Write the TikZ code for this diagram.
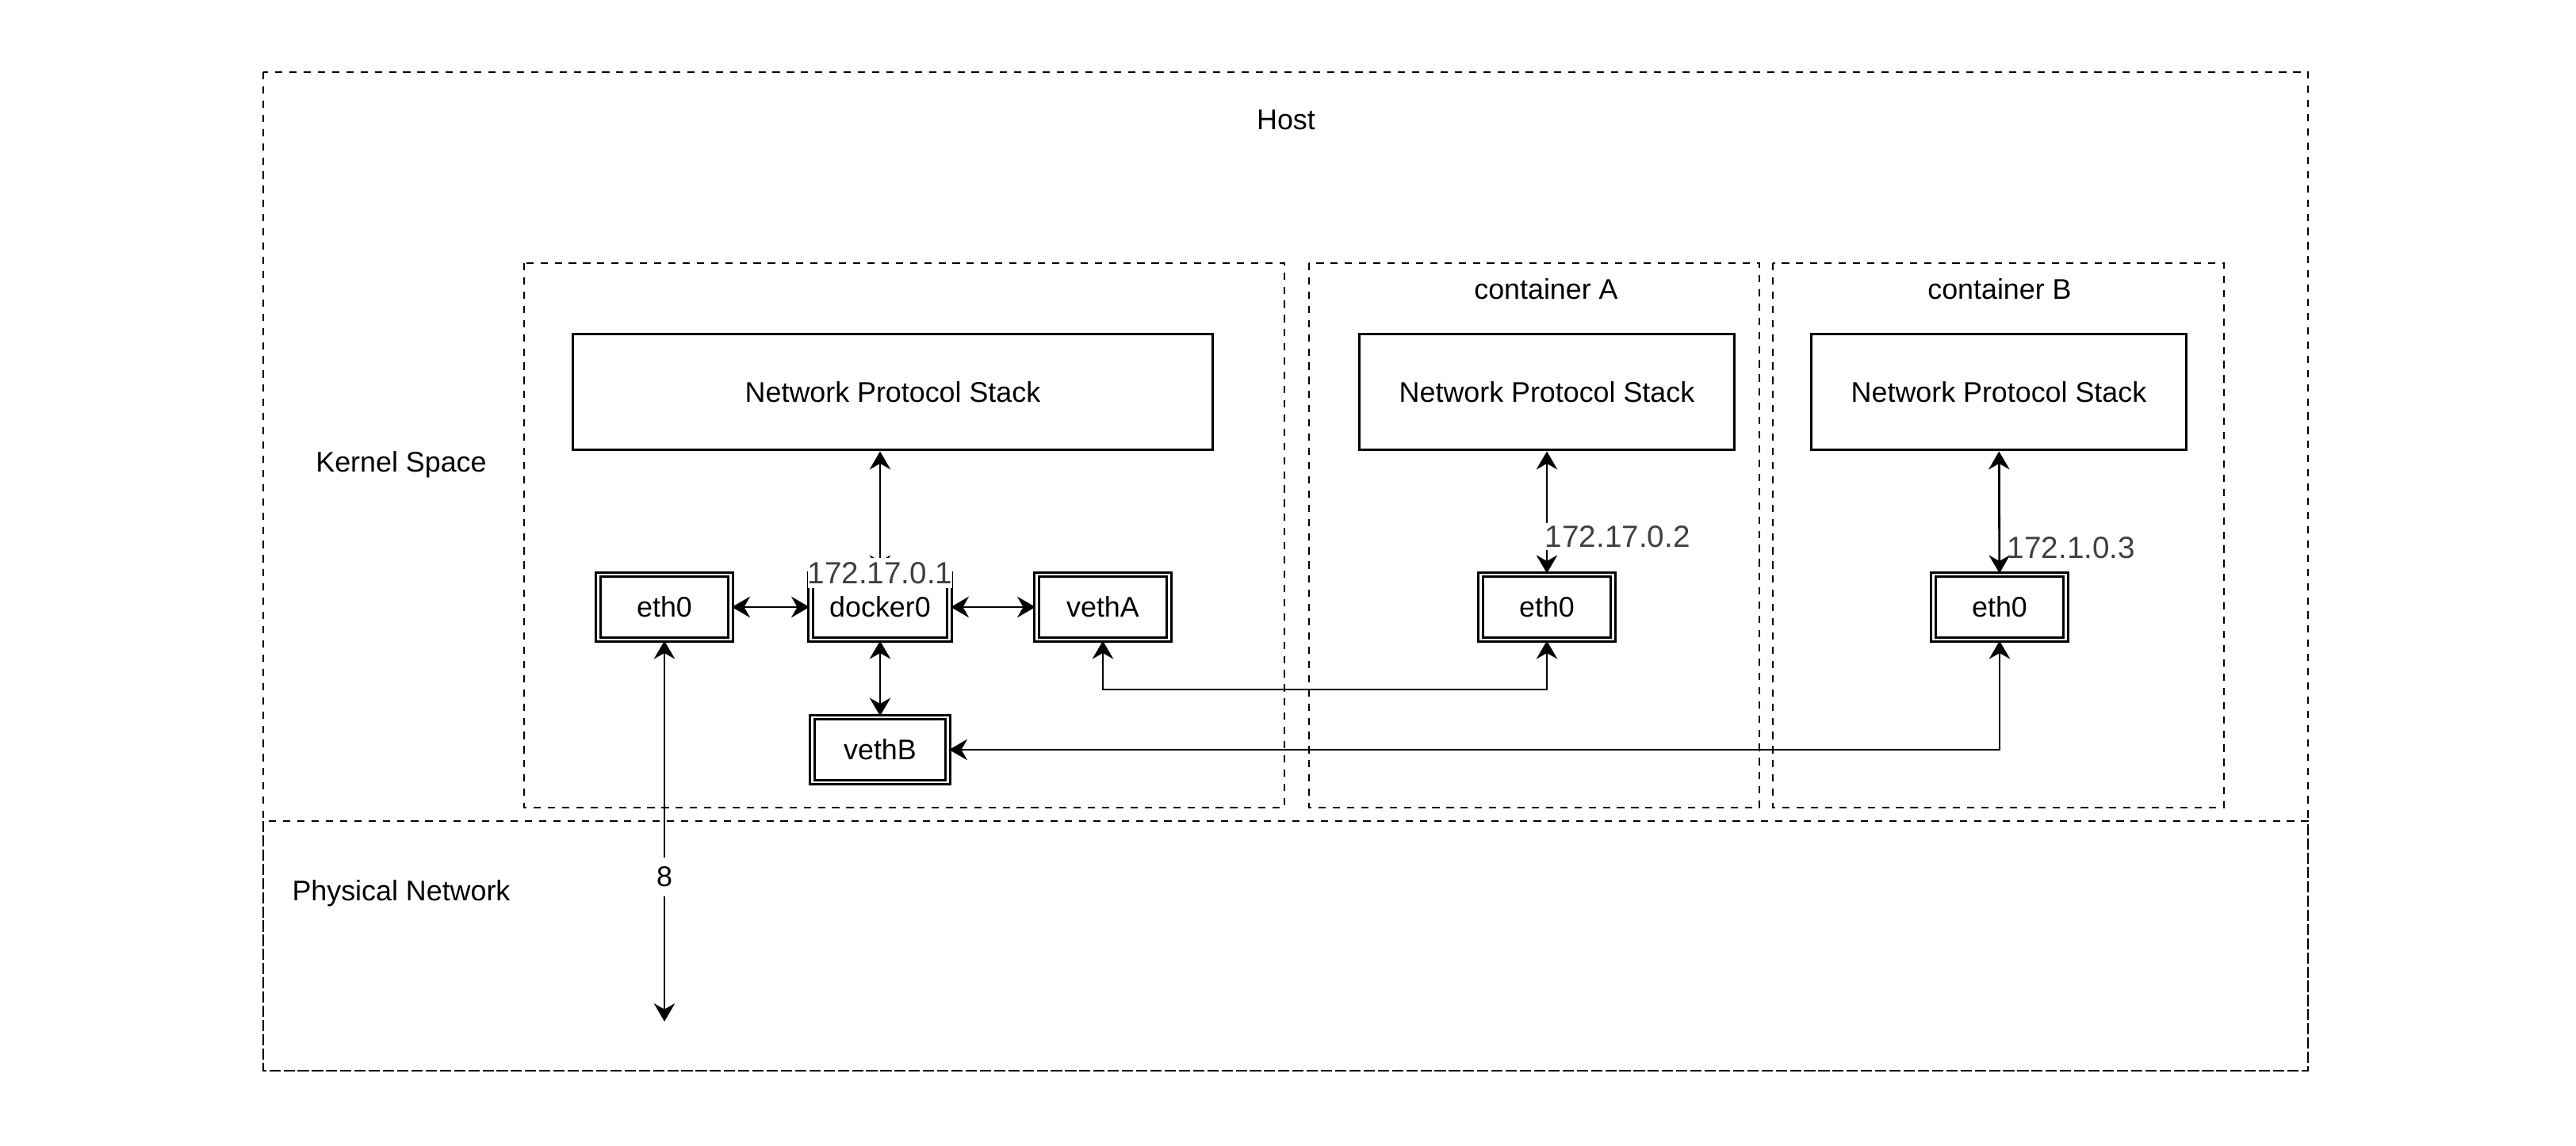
\documentclass[tikz,border=0pt]{standalone}
\usepackage{fontspec}
\setmainfont{Liberation Sans}
\usetikzlibrary{arrows.meta,positioning,calc}

\begin{document}
\begin{tikzpicture}[x=1cm,y=1cm]

\tikzset{
  region/.style={draw=black, line width=0.8pt, dash pattern=on 2.6pt off 2.5pt},
  stack/.style={draw=black, line width=0.85pt, fill=white,
                font=\fontsize{10.2}{12}\selectfont,
                minimum width=4.73cm, minimum height=1.46cm, inner sep=1pt},
  iface/.style={draw=black, double=white, double distance=0.7pt, line width=0.9pt,
                font=\fontsize{10.2}{12}\selectfont,
                minimum width=1.67cm, minimum height=0.82cm, inner sep=1pt},
  textlabel/.style={font=\fontsize{10.2}{12}\selectfont},
  iplabel/.style={font=\fontsize{11}{13}\selectfont, text=black!75, inner sep=1pt},
  link/.style={black, line width=0.8pt,
               {Stealth[length=6.5pt,width=7.5pt]}-{Stealth[length=6.5pt,width=7.5pt]}}
}

\useasboundingbox (0,0) rectangle (32.49,14.46);

% Host and physical network
\draw[region] (3.32,13.55) rectangle (29.11,0.95);
\draw[region] (3.32,4.10) rectangle (29.11,0.95);
\node[textlabel] (host) at (16.22,12.95) {Host};
\node[textlabel] (kspace) at (5.06,8.60) {Kernel Space};
\node[textlabel] (pnet) at (5.06,3.19) {Physical Network};

% Kernel and containers
\draw[region] (6.61,11.14) rectangle (16.20,4.27);
\draw[region] (16.51,11.14) rectangle (22.19,4.27);
\draw[region] (22.36,11.14) rectangle (28.05,4.27);
\node[textlabel] (ctra) at (19.50,10.81) {container A};
\node[textlabel] (ctrb) at (25.22,10.81) {container B};

% Protocol stacks
\node[stack, minimum width=8.07cm] (stk0) at (11.26,9.51) {Network Protocol Stack};
\node[stack] (stkA) at (19.51,9.51) {Network Protocol Stack};
\node[stack] (stkB) at (25.21,9.51) {Network Protocol Stack};

% Interfaces
\node[iface] (heth) at (8.38,6.80) {eth0};
\node[iface, minimum width=1.75cm] (dock) at (11.10,6.80) {docker0};
\node[iface] (vetha) at (13.91,6.80) {vethA};
\node[iface, minimum width=1.71cm] (vethb) at (11.10,5.00) {vethB};
\node[iface] (etha) at (19.51,6.80) {eth0};
\node[iface] (ethb) at (25.22,6.80) {eth0};

\coordinate (jA) at (0,5.76);
\coordinate (wire) at (8.38,1.57);

% Links
\draw[link] (stk0.south -| dock.north) -- (dock.north);
\draw[link] (heth) -- (dock);
\draw[link] (dock) -- (vetha);
\draw[link] (dock) -- (vethb);
\draw[link] (vetha.south) -- (vetha.south |- jA) -- (etha.south |- jA) -- (etha.south);
\draw[link] (vethb.east) -| (ethb.south);
\draw[link] (stkA) -- node[iplabel, pos=0.70, anchor=west, fill=white, xshift=-2pt] (ipa) {172.17.0.2} (etha);
\draw[link] (stkB) -- node[iplabel, pos=0.79, anchor=west, xshift=1.5pt] (ipb) {172.1.0.3} (ethb);
\draw[link] (heth) -- node[textlabel, pos=0.62, fill=white] (hops) {8} (wire);
\node[iplabel, fill=white, inner xsep=0pt, inner ysep=1.5pt] (ipdock) at (dock.north) {172.17.0.1};

\end{tikzpicture}
\end{document}
